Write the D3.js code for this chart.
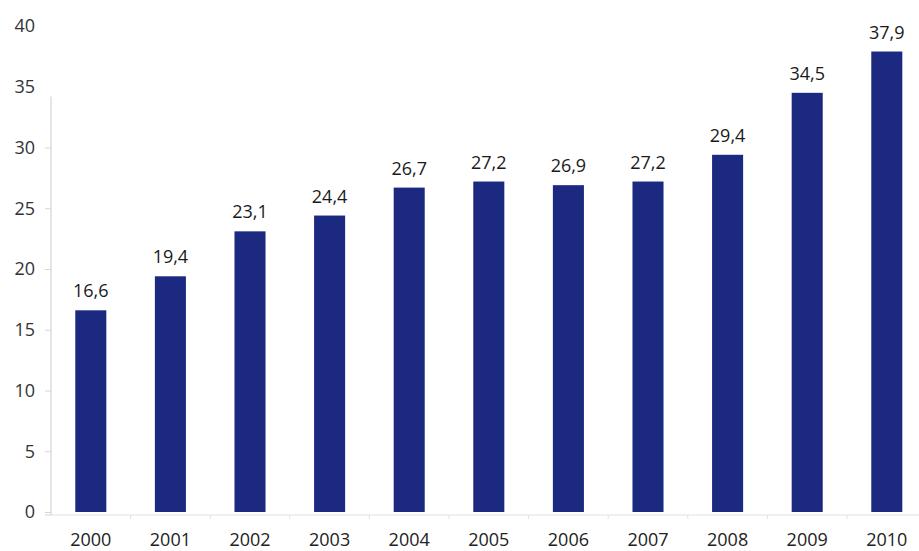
<!DOCTYPE html>
<html>
<head>
<meta charset="utf-8">
<script src="https://cdn.jsdelivr.net/npm/d3@7"></script>
<style>
  html, body { margin: 0; padding: 0; background: #fff; }
  svg { display: block; }
  text { font-family: "Open Sans", sans-serif; }
</style>
</head>
<body>
<svg id="chart" width="919" height="551"></svg>
<script>
// Annual values, 2000–2010
const years = ["2000", "2001", "2002", "2003", "2004", "2005", "2006", "2007", "2008", "2009", "2010"];
const values = [16.6, 19.4, 23.1, 24.4, 26.7, 27.2, 26.9, 27.2, 29.4, 34.5, 37.9];
const yTicks = [0, 5, 10, 15, 20, 25, 30, 35, 40];

const svg = d3.select("#chart");
const W = 919, H = 551;
const plotLeft = 51, plotTop = 26, plotBottom = 512;

const x = d3.scaleBand()
  .domain(years)
  .range([plotLeft, plotLeft + 11 * 79.6])
  .paddingInner(0.61)
  .paddingOuter(0.305);

const y = d3.scaleLinear().domain([0, 40]).range([plotBottom, plotTop]);

const fmt = v => d3.format(".1f")(v).replace(".", ",");

// Y axis: light rule that stops below the top two ticks
const axisTop = 34.2;
const yAxis = svg.append("g")
  .attr("transform", `translate(${plotLeft},0)`)
  .call(d3.axisLeft(y).tickValues(yTicks).tickSize(6).tickPadding(10));
yAxis.select(".domain").attr("stroke", "#d6d6d6").attr("stroke-width", 1.2)
  .attr("d", `M-6,${plotBottom + 3}H0V${y(axisTop)}`);
yAxis.selectAll(".tick line")
  .attr("stroke", "#d6d6d6")
  .attr("display", d => d > axisTop ? "none" : null);
yAxis.selectAll(".tick text")
  .attr("fill", "#333").style("font-size", "18px");

// X axis baseline with ticks between bars
const xAxis = svg.append("g")
  .attr("transform", `translate(0,${plotBottom + 3})`)
  .call(d3.axisBottom(x).tickSize(0));
xAxis.select(".domain").attr("stroke", "#e2e2e2").attr("stroke-width", 1.2)
  .attr("d", `M${plotLeft},0H${W}`);
xAxis.selectAll(".tick text")
  .attr("y", 31).attr("dy", 0)
  .attr("fill", "#222").style("font-size", "18px");

const step = x.step();
svg.append("g").selectAll("line")
  .data(years.slice(0, -1))
  .join("line")
  .attr("x1", d => x(d) + x.bandwidth() / 2 + step / 2)
  .attr("x2", d => x(d) + x.bandwidth() / 2 + step / 2)
  .attr("y1", plotBottom + 3)
  .attr("y2", plotBottom + 7)
  .attr("stroke", "#e2e2e2");

// Bars
svg.append("g").selectAll("rect")
  .data(values)
  .join("rect")
  .attr("x", (d, i) => x(years[i]))
  .attr("width", x.bandwidth())
  .attr("y", d => y(d))
  .attr("height", d => y(0) - y(d))
  .attr("fill", "#1b2a80");

// Value labels
svg.append("g").selectAll("text")
  .data(values)
  .join("text")
  .attr("x", (d, i) => x(years[i]) + x.bandwidth() / 2)
  .attr("y", d => y(d) - 13)
  .attr("text-anchor", "middle")
  .attr("fill", "#1a1a1a")
  .style("font-size", "18px")
  .text(d => fmt(d));
</script>
</body>
</html>
